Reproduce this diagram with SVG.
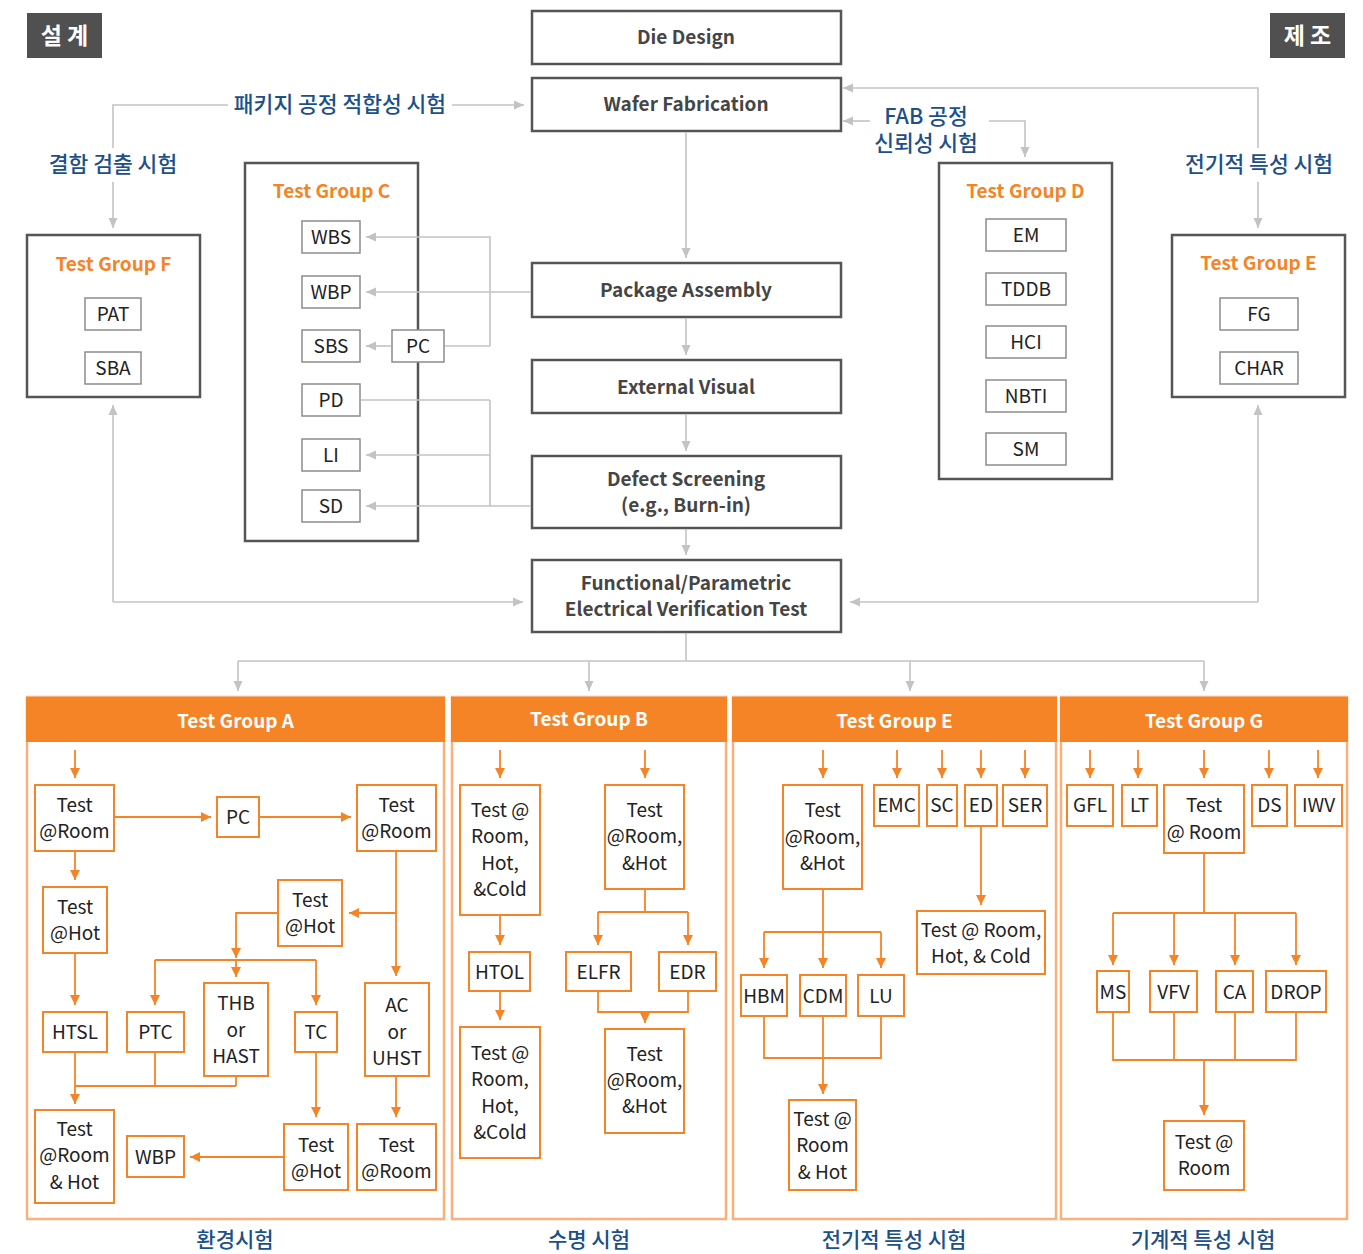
<svg xmlns="http://www.w3.org/2000/svg" width="1363" height="1254" viewBox="0 0 1363 1254">
<defs>
<style>
text{font-family:"Noto Sans CJK KR","Noto Sans",sans-serif}
.mb{fill:#fff;stroke:#555;stroke-width:2.5}
.mt{font-size:19px;font-weight:bold;fill:#454545;text-anchor:middle}
.sb{fill:#fff;stroke:#8c8c8c;stroke-width:1.5}
.st{font-size:19px;fill:#222;text-anchor:middle}
.gt{font-size:19px;font-weight:bold;fill:#f58426;text-anchor:middle}
.lbl{font-size:21.5px;font-weight:500;fill:#1b5088;text-anchor:middle}
.blbl{font-size:21px;font-weight:500;fill:#1b5088;text-anchor:middle}
.tag{fill:#505050}
.tagt{font-size:23px;font-weight:bold;fill:#fff;text-anchor:middle}
.gc{stroke:#c3c3c3;stroke-width:1.6;fill:none}
.oc{stroke:#f58426;stroke-width:1.8;fill:none}
.ob{fill:#fff;stroke:#f58426;stroke-width:2}
.hd{fill:#f58426}
.hdt{font-size:19px;font-weight:bold;fill:#fff;text-anchor:middle}
.body{fill:none;stroke:#f9b07a;stroke-width:2.5}
.ga{marker-end:url(#ag)}
.oa{marker-end:url(#ao)}
</style>
<marker id="ag" viewBox="0 0 10 10" refX="10" refY="5" markerWidth="10" markerHeight="10" markerUnits="userSpaceOnUse" orient="auto"><path d="M0,0.5 L10,5 L0,9.5 z" fill="#c3c3c3"/></marker>
<marker id="ao" viewBox="0 0 10 10" refX="10" refY="5" markerWidth="10" markerHeight="11" markerUnits="userSpaceOnUse" orient="auto"><path d="M0,0 L10,5 L0,10 z" fill="#f58426"/></marker>
</defs>
<rect width="1363" height="1254" fill="#fff"/>

<g id="tag-design"><rect class="tag" x="27" y="13" width="75" height="45"/><text class="tagt" x="64.5" y="44">설 계</text></g>
<g id="tag-manufacture"><rect class="tag" x="1270" y="13" width="75" height="45"/><text class="tagt" x="1307.5" y="44">제 조</text></g>

<g id="labels">
<text class="lbl" x="340" y="112">패키지 공정 적합성 시험</text>
<text class="lbl" x="113" y="172">결함 검출 시험</text>
<text class="lbl" x="926" y="124"><tspan x="926" y="124">FAB 공정</tspan><tspan x="926" y="151">신뢰성 시험</tspan></text>
<text class="lbl" x="1259" y="172">전기적 특성 시험</text>
<text class="blbl" x="235" y="1247">환경시험</text>
<text class="blbl" x="589" y="1247">수명 시험</text>
<text class="blbl" x="894" y="1247">전기적 특성 시험</text>
<text class="blbl" x="1203" y="1247">기계적 특성 시험</text>
</g>

<g id="die-design"><rect class="mb" x="532" y="11" width="309" height="53"/><text class="mt" x="686" y="44">Die Design</text></g>
<g id="wafer-fab"><rect class="mb" x="532" y="78" width="309" height="53"/><text class="mt" x="686" y="111">Wafer Fabrication</text></g>
<g id="package-assembly"><rect class="mb" x="532" y="263" width="309" height="54"/><text class="mt" x="686" y="297">Package Assembly</text></g>
<g id="external-visual"><rect class="mb" x="532" y="360" width="309" height="53"/><text class="mt" x="686" y="394">External Visual</text></g>
<g id="defect-screening"><rect class="mb" x="532" y="456" width="309" height="72"/><text class="mt" x="686" y="486">Defect Screening</text><text class="mt" x="686" y="512">(e.g., Burn-in)</text></g>
<g id="functional-test"><rect class="mb" x="532" y="560" width="309" height="72"/><text class="mt" x="686" y="590">Functional/Parametric</text><text class="mt" x="686" y="616">Electrical Verification Test</text></g>

<g id="group-f">
<rect class="mb" x="27" y="235" width="173" height="162"/>
<text class="gt" x="113.5" y="271">Test Group F</text>
<rect class="sb" x="85" y="298" width="56" height="32"/><text class="st" x="113" y="321">PAT</text>
<rect class="sb" x="85" y="352" width="56" height="32"/><text class="st" x="113" y="375">SBA</text>
</g>

<g id="group-c">
<rect class="mb" x="245" y="163" width="173" height="378" style="fill:none"/>
<text class="gt" x="331.5" y="198">Test Group C</text>
<rect class="sb" x="302" y="221" width="58" height="32"/><text class="st" x="331" y="244">WBS</text>
<rect class="sb" x="302" y="276" width="58" height="32"/><text class="st" x="331" y="299">WBP</text>
<rect class="sb" x="302" y="330" width="58" height="32"/><text class="st" x="331" y="353">SBS</text>
<rect class="sb" x="302" y="384" width="58" height="32"/><text class="st" x="331" y="407">PD</text>
<rect class="sb" x="302" y="439" width="58" height="32"/><text class="st" x="331" y="462">LI</text>
<rect class="sb" x="302" y="490" width="58" height="32"/><text class="st" x="331" y="513">SD</text>
<rect class="sb" x="392" y="330" width="52" height="32"/><text class="st" x="418" y="353">PC</text>
</g>

<g id="group-d">
<rect class="mb" x="939" y="163" width="173" height="316"/>
<text class="gt" x="1025.5" y="198">Test Group D</text>
<rect class="sb" x="986" y="219" width="80" height="32"/><text class="st" x="1026" y="242">EM</text>
<rect class="sb" x="986" y="273" width="80" height="32"/><text class="st" x="1026" y="296">TDDB</text>
<rect class="sb" x="986" y="326" width="80" height="32"/><text class="st" x="1026" y="349">HCI</text>
<rect class="sb" x="986" y="380" width="80" height="32"/><text class="st" x="1026" y="403">NBTI</text>
<rect class="sb" x="986" y="433" width="80" height="32"/><text class="st" x="1026" y="456">SM</text>
</g>

<g id="group-e-top">
<rect class="mb" x="1172" y="235" width="173" height="162"/>
<text class="gt" x="1258.5" y="270">Test Group E</text>
<rect class="sb" x="1220" y="298" width="78" height="32"/><text class="st" x="1259" y="321">FG</text>
<rect class="sb" x="1220" y="352" width="78" height="32"/><text class="st" x="1259" y="375">CHAR</text>
</g>

<g id="group-a">
<rect class="body" x="27" y="697" width="417" height="522"/>
<rect class="hd" x="26" y="697" width="419" height="45"/>
<text class="hdt" x="235.5" y="728">Test Group A</text>
<rect class="ob" x="35" y="785" width="79" height="66"/><text class="st" x="74.5" y="812">Test</text><text class="st" x="74.5" y="838">@Room</text>
<rect class="ob" x="217" y="797" width="42" height="40"/><text class="st" x="238" y="824">PC</text>
<rect class="ob" x="357" y="785" width="79" height="66"/><text class="st" x="396.5" y="812">Test</text><text class="st" x="396.5" y="838">@Room</text>
<rect class="ob" x="43" y="887" width="64" height="66"/><text class="st" x="75" y="914">Test</text><text class="st" x="75" y="940">@Hot</text>
<rect class="ob" x="278" y="880" width="64" height="66"/><text class="st" x="310" y="907">Test</text><text class="st" x="310" y="933">@Hot</text>
<rect class="ob" x="43" y="1012" width="64" height="40"/><text class="st" x="75" y="1039">HTSL</text>
<rect class="ob" x="127" y="1012" width="57" height="40"/><text class="st" x="155.5" y="1039">PTC</text>
<rect class="ob" x="204" y="983" width="64" height="93"/><text class="st" x="236" y="1010">THB</text><text class="st" x="236" y="1037">or</text><text class="st" x="236" y="1063">HAST</text>
<rect class="ob" x="295" y="1012" width="42" height="40"/><text class="st" x="316" y="1039">TC</text>
<rect class="ob" x="365" y="983" width="64" height="93"/><text class="st" x="397" y="1012">AC</text><text class="st" x="397" y="1039">or</text><text class="st" x="397" y="1065">UHST</text>
<rect class="ob" x="35" y="1110" width="79" height="93"/><text class="st" x="74.5" y="1136">Test</text><text class="st" x="74.5" y="1162">@Room</text><text class="st" x="74.5" y="1189">&amp; Hot</text>
<rect class="ob" x="127" y="1136" width="57" height="41"/><text class="st" x="155.5" y="1164">WBP</text>
<rect class="ob" x="284" y="1124" width="64" height="66"/><text class="st" x="316" y="1152">Test</text><text class="st" x="316" y="1178">@Hot</text>
<rect class="ob" x="357" y="1124" width="79" height="66"/><text class="st" x="396.5" y="1152">Test</text><text class="st" x="396.5" y="1178">@Room</text>
</g>

<g id="group-b">
<rect class="body" x="452" y="697" width="274" height="522"/>
<rect class="hd" x="451" y="697" width="276" height="45"/>
<text class="hdt" x="589" y="726">Test Group B</text>
<rect class="ob" x="460" y="785" width="80" height="130"/><text class="st" x="500" y="817">Test @</text><text class="st" x="500" y="843">Room,</text><text class="st" x="500" y="870">Hot,</text><text class="st" x="500" y="896">&amp;Cold</text>
<rect class="ob" x="469" y="952" width="61" height="39"/><text class="st" x="499.5" y="979">HTOL</text>
<rect class="ob" x="460" y="1027" width="80" height="131"/><text class="st" x="500" y="1060">Test @</text><text class="st" x="500" y="1086">Room,</text><text class="st" x="500" y="1113">Hot,</text><text class="st" x="500" y="1139">&amp;Cold</text>
<rect class="ob" x="605" y="785" width="79" height="104"/><text class="st" x="644.5" y="817">Test</text><text class="st" x="644.5" y="843">@Room,</text><text class="st" x="644.5" y="870">&amp;Hot</text>
<rect class="ob" x="566" y="952" width="65" height="39"/><text class="st" x="598.5" y="979">ELFR</text>
<rect class="ob" x="659" y="952" width="57" height="39"/><text class="st" x="687.5" y="979">EDR</text>
<rect class="ob" x="605" y="1029" width="79" height="104"/><text class="st" x="644.5" y="1061">Test</text><text class="st" x="644.5" y="1087">@Room,</text><text class="st" x="644.5" y="1113">&amp;Hot</text>
</g>

<g id="group-e">
<rect class="body" x="733" y="697" width="323" height="522"/>
<rect class="hd" x="732" y="697" width="325" height="45"/>
<text class="hdt" x="894.5" y="728">Test Group E</text>
<rect class="ob" x="783" y="785" width="79" height="104"/><text class="st" x="822.5" y="817">Test</text><text class="st" x="822.5" y="844">@Room,</text><text class="st" x="822.5" y="870">&amp;Hot</text>
<rect class="ob" x="874" y="785" width="45" height="41"/><text class="st" x="896.5" y="812">EMC</text>
<rect class="ob" x="927" y="785" width="30" height="41"/><text class="st" x="942" y="812">SC</text>
<rect class="ob" x="965" y="785" width="32" height="41"/><text class="st" x="981" y="812">ED</text>
<rect class="ob" x="1003" y="785" width="44" height="41"/><text class="st" x="1025" y="812">SER</text>
<rect class="ob" x="917" y="911" width="128" height="63"/><text class="st" x="981" y="937">Test @ Room,</text><text class="st" x="981" y="963">Hot, &amp; Cold</text>
<rect class="ob" x="741" y="975" width="46" height="41"/><text class="st" x="764" y="1003">HBM</text>
<rect class="ob" x="800" y="975" width="46" height="41"/><text class="st" x="823" y="1003">CDM</text>
<rect class="ob" x="858" y="975" width="46" height="41"/><text class="st" x="881" y="1003">LU</text>
<rect class="ob" x="789" y="1100" width="67" height="90"/><text class="st" x="822.5" y="1126">Test @</text><text class="st" x="822.5" y="1152">Room</text><text class="st" x="822.5" y="1179">&amp; Hot</text>
</g>

<g id="group-g">
<rect class="body" x="1061" y="697" width="286" height="522"/>
<rect class="hd" x="1060" y="697" width="288" height="45"/>
<text class="hdt" x="1204" y="728">Test Group G</text>
<rect class="ob" x="1067" y="785" width="46" height="41"/><text class="st" x="1090" y="812">GFL</text>
<rect class="ob" x="1122" y="785" width="35" height="41"/><text class="st" x="1139.5" y="812">LT</text>
<rect class="ob" x="1164" y="785" width="80" height="68"/><text class="st" x="1204" y="812">Test</text><text class="st" x="1204" y="839">@ Room</text>
<rect class="ob" x="1252" y="785" width="35" height="41"/><text class="st" x="1269.5" y="812">DS</text>
<rect class="ob" x="1295" y="785" width="47" height="41"/><text class="st" x="1318.5" y="812">IWV</text>
<rect class="ob" x="1097" y="971" width="32" height="41"/><text class="st" x="1113" y="999">MS</text>
<rect class="ob" x="1150" y="971" width="47" height="41"/><text class="st" x="1173.5" y="999">VFV</text>
<rect class="ob" x="1216" y="971" width="37" height="41"/><text class="st" x="1234.5" y="999">CA</text>
<rect class="ob" x="1266" y="971" width="60" height="41"/><text class="st" x="1296" y="999">DROP</text>
<rect class="ob" x="1164" y="1121" width="80" height="69"/><text class="st" x="1204" y="1149">Test @</text><text class="st" x="1204" y="1175">Room</text>
</g>

<g id="connectors">
<polyline class="gc" points="113,148 113,105 228,105"/>
<line class="gc ga" x1="452" y1="105" x2="524" y2="105"/>
<line class="gc ga" x1="113" y1="182" x2="113" y2="228"/>
<polyline class="gc ga" points="1258,148 1258,88 843,88"/>
<line class="gc ga" x1="870" y1="121" x2="843" y2="121"/>
<polyline class="gc ga" points="989,121 1025,121 1025,157"/>
<line class="gc ga" x1="1258" y1="182" x2="1258" y2="228"/>
<line class="gc ga" x1="686" y1="132" x2="686" y2="258"/>
<line class="gc ga" x1="686" y1="318" x2="686" y2="355"/>
<line class="gc ga" x1="686" y1="414" x2="686" y2="451"/>
<line class="gc ga" x1="686" y1="529" x2="686" y2="555"/>
<line class="gc" x1="686" y1="633" x2="686" y2="661"/>
<line class="gc" x1="238" y1="661" x2="1204" y2="661"/>
<line class="gc ga" x1="238" y1="661" x2="238" y2="691"/>
<line class="gc ga" x1="589" y1="661" x2="589" y2="691"/>
<line class="gc ga" x1="910" y1="661" x2="910" y2="691"/>
<line class="gc ga" x1="1204" y1="661" x2="1204" y2="691"/>
<line class="gc ga" x1="113" y1="602" x2="113" y2="405"/>
<line class="gc ga" x1="113" y1="602" x2="523" y2="602"/>
<line class="gc ga" x1="1258" y1="602" x2="1258" y2="405"/>
<line class="gc ga" x1="1258" y1="602" x2="850" y2="602"/>
<line class="gc ga" x1="531" y1="292" x2="366" y2="292"/>
<polyline class="gc ga" points="490,346 490,237 366,237"/>
<line class="gc" x1="445" y1="346" x2="490" y2="346"/>
<line class="gc ga" x1="391" y1="346" x2="366" y2="346"/>
<line class="gc ga" x1="531" y1="506" x2="366" y2="506"/>
<line class="gc" x1="490" y1="400" x2="490" y2="506"/>
<line class="gc" x1="361" y1="400" x2="490" y2="400"/>
<line class="gc ga" x1="490" y1="455" x2="366" y2="455"/>

<line class="oc oa" x1="75" y1="750" x2="75" y2="778"/>
<line class="oc oa" x1="114" y1="817" x2="211" y2="817"/>
<line class="oc oa" x1="259" y1="817" x2="351" y2="817"/>
<line class="oc oa" x1="75" y1="851" x2="75" y2="880"/>
<line class="oc oa" x1="396" y1="851" x2="396" y2="976"/>
<line class="oc oa" x1="396" y1="913" x2="349" y2="913"/>
<polyline class="oc oa" points="278,913 236,913 236,958"/>
<line class="oc" x1="155" y1="960" x2="316" y2="960"/>
<line class="oc oa" x1="155" y1="960" x2="155" y2="1005"/>
<line class="oc oa" x1="316" y1="960" x2="316" y2="1005"/>
<line class="oc oa" x1="236" y1="960" x2="236" y2="977"/>
<line class="oc oa" x1="75" y1="953" x2="75" y2="1005"/>
<line class="oc" x1="155" y1="1052" x2="155" y2="1086"/>
<line class="oc" x1="236" y1="1076" x2="236" y2="1086"/>
<line class="oc" x1="75" y1="1086" x2="236" y2="1086"/>
<line class="oc oa" x1="75" y1="1052" x2="75" y2="1104"/>
<line class="oc oa" x1="316" y1="1052" x2="316" y2="1117"/>
<line class="oc oa" x1="396" y1="1076" x2="396" y2="1117"/>
<line class="oc oa" x1="284" y1="1157" x2="190" y2="1157"/>

<line class="oc oa" x1="500" y1="750" x2="500" y2="778"/>
<line class="oc oa" x1="500" y1="915" x2="500" y2="945"/>
<line class="oc oa" x1="500" y1="991" x2="500" y2="1020"/>
<line class="oc oa" x1="645" y1="750" x2="645" y2="778"/>
<line class="oc" x1="645" y1="889" x2="645" y2="912"/>
<line class="oc" x1="598" y1="912" x2="688" y2="912"/>
<line class="oc oa" x1="598" y1="912" x2="598" y2="945"/>
<line class="oc oa" x1="688" y1="912" x2="688" y2="945"/>
<polyline class="oc" points="598,991 598,1012 688,1012 688,991"/>
<line class="oc oa" x1="645" y1="1012" x2="645" y2="1023"/>

<line class="oc oa" x1="823" y1="750" x2="823" y2="778"/>
<line class="oc oa" x1="897" y1="750" x2="897" y2="778"/>
<line class="oc oa" x1="942" y1="750" x2="942" y2="778"/>
<line class="oc oa" x1="981" y1="750" x2="981" y2="778"/>
<line class="oc oa" x1="1025" y1="750" x2="1025" y2="778"/>
<line class="oc oa" x1="981" y1="826" x2="981" y2="905"/>
<line class="oc oa" x1="823" y1="889" x2="823" y2="968"/>
<line class="oc" x1="764" y1="932" x2="881" y2="932"/>
<line class="oc oa" x1="764" y1="932" x2="764" y2="968"/>
<line class="oc oa" x1="881" y1="932" x2="881" y2="968"/>
<polyline class="oc" points="764,1016 764,1058 881,1058 881,1016"/>
<line class="oc oa" x1="823" y1="1016" x2="823" y2="1094"/>

<line class="oc oa" x1="1090" y1="750" x2="1090" y2="778"/>
<line class="oc oa" x1="1138" y1="750" x2="1138" y2="778"/>
<line class="oc oa" x1="1204" y1="750" x2="1204" y2="778"/>
<line class="oc oa" x1="1269" y1="750" x2="1269" y2="778"/>
<line class="oc oa" x1="1318" y1="750" x2="1318" y2="778"/>
<line class="oc" x1="1204" y1="853" x2="1204" y2="913"/>
<line class="oc" x1="1113" y1="913" x2="1296" y2="913"/>
<line class="oc oa" x1="1113" y1="913" x2="1113" y2="965"/>
<line class="oc oa" x1="1174" y1="913" x2="1174" y2="965"/>
<line class="oc oa" x1="1235" y1="913" x2="1235" y2="965"/>
<line class="oc oa" x1="1296" y1="913" x2="1296" y2="965"/>
<polyline class="oc" points="1113,1012 1113,1060 1296,1060 1296,1012"/>
<line class="oc" x1="1174" y1="1012" x2="1174" y2="1060"/>
<line class="oc" x1="1235" y1="1012" x2="1235" y2="1060"/>
<line class="oc oa" x1="1204" y1="1060" x2="1204" y2="1115"/>
</g>
</svg>
